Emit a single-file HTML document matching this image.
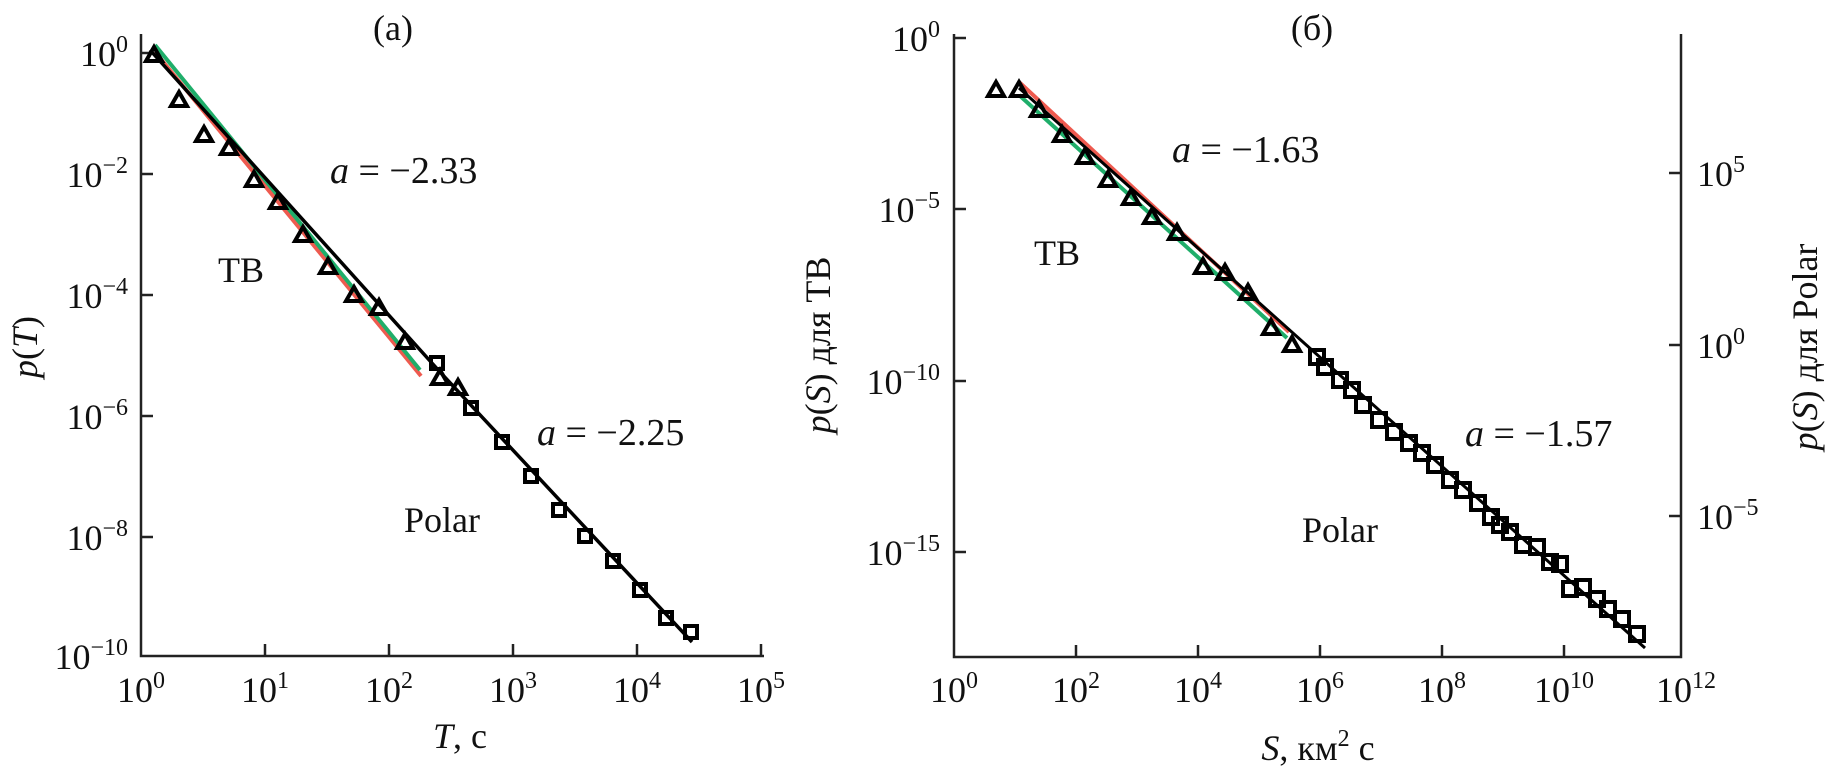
<!DOCTYPE html>
<html><head><meta charset="utf-8"><style>
html,body{margin:0;padding:0;background:#fff;font-family:"Liberation Serif","Times New Roman",serif;}
svg{display:block;}
text{font-family:"Liberation Serif","Times New Roman",serif;}
</style></head><body>
<svg width="1828" height="777" viewBox="0 0 1828 777" xmlns="http://www.w3.org/2000/svg" font-family="Liberation Serif, serif">
<g stroke="#222" stroke-width="2.5" fill="none">
<path d="M141 34 V656 H764"/>
<path d="M141 174 h12 M141 295 h12 M141 416 h12 M141 537 h12 M141 53 h12"/>
<path d="M265 656 v-12 M389 656 v-12 M513 656 v-12 M637 656 v-12 M761 656 v-12"/>
<path d="M954 34 V657 H1681 V34"/>
<path d="M954 38 h12 M954 209 h12 M954 381 h12 M954 552 h12"/>
<path d="M1076 657 v-12 M1198 657 v-12 M1320 657 v-12 M1442 657 v-12 M1564 657 v-12"/>
<path d="M1681 173 h-12 M1681 345 h-12 M1681 516 h-12"/>
</g>
<line x1="155" y1="52" x2="421" y2="376" stroke="#ee5a4f" stroke-width="4"/>
<line x1="155" y1="45" x2="420" y2="370" stroke="#1fae6a" stroke-width="4"/>
<polyline points="150,50 440,372 692,642" fill="none" stroke="#000" stroke-width="3.5"/>
<line x1="1019" y1="82" x2="1289" y2="332" stroke="#ee5a4f" stroke-width="4"/>
<line x1="1019" y1="95" x2="1287" y2="338" stroke="#1fae6a" stroke-width="4"/>
<line x1="1019" y1="88" x2="1645" y2="648" stroke="#000" stroke-width="3"/>
<g font-size="36" fill="#111" font-family="Liberation Serif, serif">
<text x="393" y="40" text-anchor="middle">(a)</text>
<text x="1312" y="40" text-anchor="middle">(б)</text>
<text x="128" y="66" text-anchor="end">10<tspan dy="-14" font-size="24">0</tspan></text>
<text x="128" y="187" text-anchor="end">10<tspan dy="-14" font-size="24">−2</tspan></text>
<text x="128" y="308" text-anchor="end">10<tspan dy="-14" font-size="24">−4</tspan></text>
<text x="128" y="429" text-anchor="end">10<tspan dy="-14" font-size="24">−6</tspan></text>
<text x="128" y="550" text-anchor="end">10<tspan dy="-14" font-size="24">−8</tspan></text>
<text x="128" y="669" text-anchor="end">10<tspan dy="-14" font-size="24">−10</tspan></text>
<text x="141" y="702" text-anchor="middle">10<tspan dy="-14" font-size="24">0</tspan></text>
<text x="265" y="702" text-anchor="middle">10<tspan dy="-14" font-size="24">1</tspan></text>
<text x="389" y="702" text-anchor="middle">10<tspan dy="-14" font-size="24">2</tspan></text>
<text x="513" y="702" text-anchor="middle">10<tspan dy="-14" font-size="24">3</tspan></text>
<text x="637" y="702" text-anchor="middle">10<tspan dy="-14" font-size="24">4</tspan></text>
<text x="761" y="702" text-anchor="middle">10<tspan dy="-14" font-size="24">5</tspan></text>
<text x="460" y="748" text-anchor="middle"><tspan font-style="italic">T</tspan>, с</text>
<text transform="translate(37,347) rotate(-90)" text-anchor="middle"><tspan font-style="italic">p</tspan>(<tspan font-style="italic">T</tspan>)</text>
<text x="330" y="183" font-size="38"><tspan font-style="italic">a</tspan> = −2.33</text>
<text x="218" y="282">TB</text>
<text x="537" y="445" font-size="38"><tspan font-style="italic">a</tspan> = −2.25</text>
<text x="404" y="532">Polar</text>
<text x="940" y="51" text-anchor="end">10<tspan dy="-14" font-size="24">0</tspan></text>
<text x="940" y="222" text-anchor="end">10<tspan dy="-14" font-size="24">−5</tspan></text>
<text x="940" y="394" text-anchor="end">10<tspan dy="-14" font-size="24">−10</tspan></text>
<text x="940" y="565" text-anchor="end">10<tspan dy="-14" font-size="24">−15</tspan></text>
<text x="954" y="702" text-anchor="middle">10<tspan dy="-14" font-size="24">0</tspan></text>
<text x="1076" y="702" text-anchor="middle">10<tspan dy="-14" font-size="24">2</tspan></text>
<text x="1198" y="702" text-anchor="middle">10<tspan dy="-14" font-size="24">4</tspan></text>
<text x="1320" y="702" text-anchor="middle">10<tspan dy="-14" font-size="24">6</tspan></text>
<text x="1442" y="702" text-anchor="middle">10<tspan dy="-14" font-size="24">8</tspan></text>
<text x="1564" y="702" text-anchor="middle">10<tspan dy="-14" font-size="24">10</tspan></text>
<text x="1686" y="702" text-anchor="middle">10<tspan dy="-14" font-size="24">12</tspan></text>
<text x="1697" y="186">10<tspan dy="-14" font-size="24">5</tspan></text>
<text x="1697" y="358">10<tspan dy="-14" font-size="24">0</tspan></text>
<text x="1697" y="529">10<tspan dy="-14" font-size="24">−5</tspan></text>
<text x="1318" y="760" text-anchor="middle"><tspan font-style="italic">S</tspan>, км<tspan dy="-14" font-size="24">2</tspan><tspan dy="14"> с</tspan></text>
<text transform="translate(830,345) rotate(-90)" text-anchor="middle"><tspan font-style="italic">p</tspan>(<tspan font-style="italic">S</tspan>) для ТВ</text>
<text transform="translate(1817,347) rotate(-90)" text-anchor="middle"><tspan font-style="italic">p</tspan>(<tspan font-style="italic">S</tspan>) для Polar</text>
<text x="1172" y="162" font-size="38"><tspan font-style="italic">a</tspan> = −1.63</text>
<text x="1034" y="265">TB</text>
<text x="1465" y="446" font-size="38"><tspan font-style="italic">a</tspan> = −1.57</text>
<text x="1302" y="542">Polar</text>
</g>
<g stroke="#000" stroke-width="4" fill="none">
<path d="M154 47l8 14h-16z M179 92l8 14h-16z M204 127l8 14h-16z M229 140l8 14h-16z M254 172l8 14h-16z M278 194l8 14h-16z M303 227l8 14h-16z M328 259l8 14h-16z M354 287l8 14h-16z M379 300l8 14h-16z M405 334l8 14h-16z M440 370l8 14h-16z M458 380l8 14h-16z"/>
<path d="M431 357h12v12h-12z M465 402h12v12h-12z M496 436h12v12h-12z M525 470h12v12h-12z M553 504h12v12h-12z M579 530h12v12h-12z M607 555h12v12h-12z M634 584h12v12h-12z M660 612h12v12h-12z M685 626h12v12h-12z"/>
<path d="M996 82l8 14h-16z M1019 82l8 14h-16z M1039 102l8 14h-16z M1062 127l8 14h-16z M1085 149l8 14h-16z M1108 172l8 14h-16z M1131 190l8 14h-16z M1152 209l8 14h-16z M1177 225l8 14h-16z M1203 259l8 14h-16z M1225 265l8 14h-16z M1248 285l8 14h-16z M1271 320l8 14h-16z M1292 337l8 14h-16z"/>
<path d="M1310 350h14v14h-14z M1318 360h14v14h-14z M1333 373h14v14h-14z M1345 383h14v14h-14z M1356 398h14v14h-14z M1372 413h14v14h-14z M1387 425h14v14h-14z M1402 436h14v14h-14z M1415 446h14v14h-14z M1428 458h14v14h-14z M1443 473h14v14h-14z M1456 483h14v14h-14z M1471 496h14v14h-14z M1484 510h14v14h-14z M1493 518h14v14h-14z M1503 525h14v14h-14z M1516 538h14v14h-14z M1530 540h14v14h-14z M1543 555h14v14h-14z M1553 557h14v14h-14z M1563 582h14v14h-14z M1576 580h14v14h-14z M1590 592h14v14h-14z M1601 602h14v14h-14z M1615 612h14v14h-14z M1630 627h14v14h-14z"/>
</g>
</svg>
</body></html>
